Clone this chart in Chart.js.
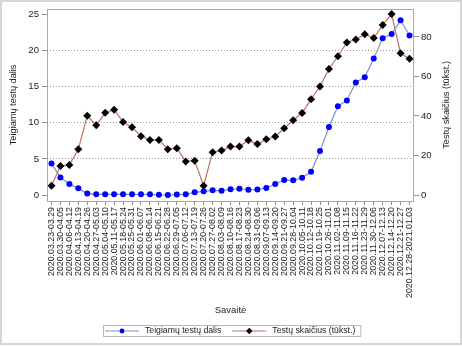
<!DOCTYPE html>
<html>
<head>
<meta charset="utf-8">
<script src="https://cdn.jsdelivr.net/npm/chart.js@4/dist/chart.umd.min.js"></script>
<style>
html,body{margin:0;padding:0;background:#fff;}
canvas{display:block;}
</style>
</head>
<body>
<canvas id="c" width="462" height="346"></canvas>
<script>
const categories = [
  "2020.03.23-03.29","2020.03.30-04.05","2020.04.06-04.12","2020.04.13-04.19","2020.04.20-04.26",
  "2020.04.27-05.03","2020.05.04-05.10","2020.05.11-05.17","2020.05.18-05.24","2020.05.25-05.31",
  "2020.06.01-06.07","2020.06.08-06.14","2020.06.15-06.21","2020.06.22-06.28","2020.06.29-07.05",
  "2020.07.06-07.12","2020.07.13-07.19","2020.07.20-07.26","2020.07.27-08.02","2020.08.03-08.09",
  "2020.08.10-08.16","2020.08.17-08.23","2020.08.24-08.30","2020.08.31-09.06","2020.09.07-09.13",
  "2020.09.14-09.20","2020.09.21-09.27","2020.09.28-10.04","2020.10.05-10.11","2020.10.12-10.18",
  "2020.10.19-10.25","2020.10.26-11.01","2020.11.02-11.08","2020.11.09-11.15","2020.11.16-11.22",
  "2020.11.23-11.29","2020.11.30-12.06","2020.12.07-12.13","2020.12.14-12.20","2020.12.21-12.27",
  "2020.12.28-2021.01.03"
];
const positiveShare = [
  4.37, 2.44, 1.54, 0.92, 0.2, 0.1, 0.1, 0.1, 0.12, 0.1,
  0.1, 0.1, 0.03, 0.0, 0.07, 0.1, 0.37, 0.51, 0.65, 0.6,
  0.79, 0.87, 0.73, 0.76, 0.98, 1.52, 2.07, 2.03, 2.39, 3.22,
  6.08, 9.43, 12.3, 13.1, 15.6, 16.3, 18.9, 21.7, 22.3, 24.2,
  22.1
];
const testCount = [
  4.7, 14.7, 15.2, 23.2, 40.1, 35.3, 41.6, 43.2, 36.9, 34.3,
  29.8, 27.9, 27.9, 23.2, 23.7, 17.0, 17.3, 4.7, 21.7, 22.5,
  24.5, 24.5, 27.7, 25.8, 28.2, 29.6, 33.8, 37.8, 41.5, 48.5,
  54.9, 63.8, 70.2, 77.2, 78.7, 81.3, 79.4, 86.0, 91.5, 71.7,
  68.9
];
const leftTicks = [0, 5, 10, 15, 20, 25];
const rightTicks = [0, 20, 40, 60, 80];
const seriesNames = ["Teigiamų testų dalis", "Testų skaičius (tūkst.)"];
const axisTitles = {left: "Teigiamų testų dalis", right: "Testų skaičius (tūkst.)", x: "Savaitė"};

const FONT = "'Liberation Sans', Arial, sans-serif";
const TXT = '#222';
const blueLine = '#7f8fcc';
const redLine = '#c47068';

const framePlugin = {
  id: 'frame',
  afterDraw(chart) {
    const {ctx, chartArea: a} = chart;
    ctx.save();
    // plot box
    ctx.strokeStyle = '#a8a8a8';
    ctx.lineWidth = 1;
    ctx.strokeRect(Math.round(a.left) + 0.5, Math.round(a.top) + 0.5,
                   Math.round(a.right - a.left) - 1, Math.round(a.bottom - a.top));
    // outer frame
    ctx.strokeStyle = '#d6d6d6';
    ctx.lineWidth = 2;
    ctx.strokeRect(1, 1, 460, 343);
    // right axis title (reads bottom to top)
    ctx.fillStyle = TXT;
    ctx.font = "9.2px " + FONT;
    ctx.textAlign = 'center';
    ctx.textBaseline = 'middle';
    ctx.translate(446.5, (a.top + a.bottom) / 2);
    ctx.rotate(-Math.PI / 2);
    ctx.fillText(axisTitles.right, 0, 0);
    ctx.restore();

    // legend
    ctx.save();
    ctx.font = "8.7px " + FONT;
    ctx.textBaseline = 'middle';
    ctx.textAlign = 'left';
    const y = 331;
    let x = 103;
    const startX = x;
    const items = [
      {name: seriesNames[0], line: blueLine, marker: 'circle', fill: '#0000ff'},
      {name: seriesNames[1], line: redLine, marker: 'diamond', fill: '#000'}
    ];
    items.forEach((it, i) => {
      const lx0 = x + 2, lx1 = x + 36;
      ctx.strokeStyle = it.line;
      ctx.lineWidth = 1.2;
      ctx.beginPath(); ctx.moveTo(lx0, y); ctx.lineTo(lx1, y); ctx.stroke();
      const mx = (lx0 + lx1) / 2;
      ctx.fillStyle = it.fill;
      ctx.beginPath();
      if (it.marker === 'circle') {
        ctx.arc(mx, y, 2.4, 0, Math.PI * 2);
      } else {
        ctx.moveTo(mx, y - 3.2); ctx.lineTo(mx + 3.2, y); ctx.lineTo(mx, y + 3.2); ctx.lineTo(mx - 3.2, y); ctx.closePath();
      }
      ctx.fill();
      ctx.fillStyle = TXT;
      const tx = x + 42;
      ctx.fillText(it.name, tx, y);
      x = tx + ctx.measureText(it.name).width + 9;
    });
    const endX = x - 4;
    ctx.strokeStyle = '#b8b8b8';
    ctx.lineWidth = 1;
    ctx.strokeRect(startX + 0.5, 325.5, endX - startX, 11);
    ctx.restore();
  }
};

new Chart(document.getElementById('c'), {
  type: 'line',
  data: {
    labels: categories,
    datasets: [
      {
        label: seriesNames[0],
        data: positiveShare,
        yAxisID: 'y',
        borderColor: blueLine,
        borderWidth: 1.2,
        pointStyle: 'circle',
        pointRadius: 3,
        pointBorderWidth: 0,
        pointBackgroundColor: '#0000ff',
        pointBorderColor: '#0000ff',
        tension: 0,
        order: 1
      },
      {
        label: seriesNames[1],
        data: testCount,
        yAxisID: 'y2',
        borderColor: redLine,
        borderWidth: 1.2,
        pointStyle: 'rectRot',
        pointRadius: 4,
        pointBorderWidth: 0,
        pointBackgroundColor: '#000',
        pointBorderColor: '#000',
        tension: 0,
        order: 2
      }
    ]
  },
  options: {
    responsive: false,
    animation: false,
    devicePixelRatio: 1,
    layout: {padding: {top: 8, left: 0, right: 0, bottom: 26}},
    plugins: {legend: {display: false}, tooltip: {enabled: false}},
    scales: {
      x: {
        type: 'category',
        offset: true,
        grid: {
          offset: false,
          drawOnChartArea: false,
          color: '#909090',
          tickColor: '#909090',
          tickLength: 4
        },
        border: {display: false},
        ticks: {
          autoSkip: false,
          minRotation: 90,
          maxRotation: 90,
          padding: 2,
          color: TXT,
          font: {family: FONT, size: 8.8}
        },
        title: {
          display: true,
          text: axisTitles.x,
          color: TXT,
          font: {family: FONT, size: 9.5},
          padding: {top: 0, bottom: 3.6}
        },
        afterFit(s) { s.height = 119; }
      },
      y: {
        position: 'left',
        min: -0.83,
        max: 25.8,
        afterBuildTicks(s) { s.ticks = leftTicks.map(v => ({value: v})); },
        grid: {
          color: (c) => (c.tick && c.tick.value > 0 && c.tick.value < 25) ? '#9a9a9a' : 'rgba(0,0,0,0)',
          tickColor: '#909090',
          tickLength: 5,
          lineWidth: 1
        },
        border: {display: false, dash: [1, 2]},
        ticks: {
          padding: 3,
          color: TXT,
          font: {family: FONT, size: 9.6}
        },
        title: {
          display: true,
          text: axisTitles.left,
          color: TXT,
          font: {family: FONT, size: 9.2},
          padding: {top: 8, bottom: 0}
        },
        afterFit(s) { s.width = 47; }
      },
      y2: {
        position: 'right',
        min: -3.0,
        max: 94.2,
        afterBuildTicks(s) { s.ticks = rightTicks.map(v => ({value: v})); },
        grid: {
          drawOnChartArea: false,
          color: '#909090',
          tickColor: '#909090',
          tickLength: 5
        },
        border: {display: false},
        ticks: {
          padding: 2,
          color: TXT,
          font: {family: FONT, size: 9.6}
        },
        afterFit(s) { s.width = 48; }
      }
    }
  },
  plugins: [framePlugin]
});
</script>
</body>
</html>
